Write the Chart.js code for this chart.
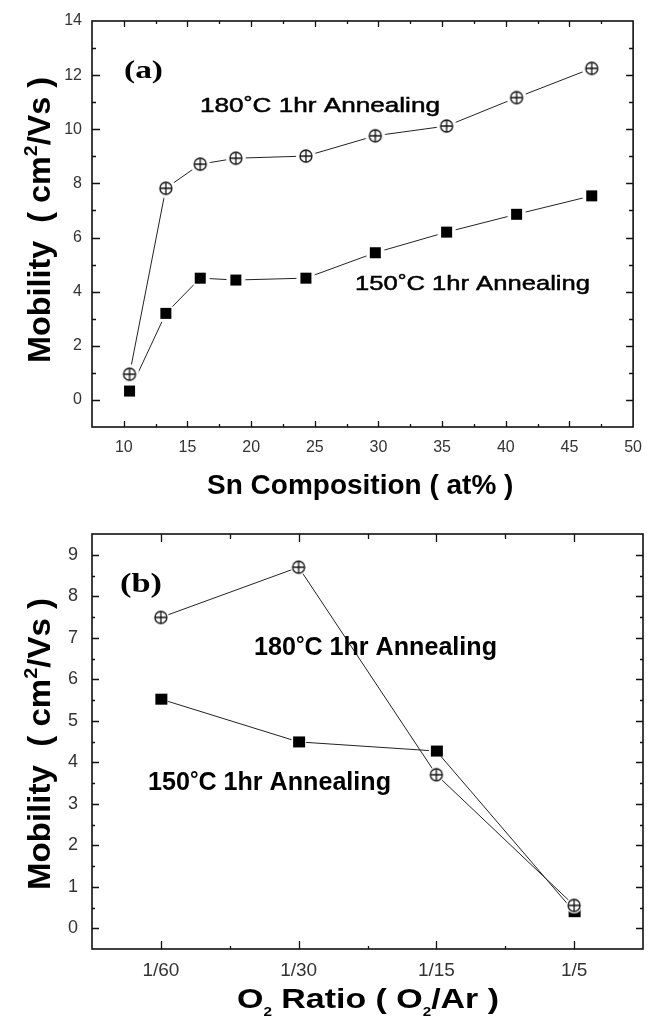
<!DOCTYPE html>
<html>
<head>
<meta charset="utf-8">
<script src="https://cdn.jsdelivr.net/npm/chart.js@4.4.1/dist/chart.umd.min.js"></script>
<style>
  html, body { margin: 0; padding: 0; background: #fff; }
  #wrap { position: relative; width: 653px; height: 1021px; overflow: hidden; }
  canvas { position: absolute; left: 0; }
  #ca { top: 0; }
  #cb { top: 500px; }
</style>
</head>
<body>
<div id="wrap">
  <canvas id="ca" width="653" height="500"></canvas>
  <canvas id="cb" width="653" height="521"></canvas>
</div>
<script>
// ---------- DATA ----------
// (a) Mobility vs Sn composition
const snComp   = [10.45, 13.3, 16.0, 18.8, 24.3, 29.75, 35.35, 40.85, 46.75];
const mob180a  = [0.95, 7.82, 8.71, 8.93, 9.01, 9.76, 10.12, 11.17, 12.25];
const mob150a  = [0.33, 3.2, 4.5, 4.43, 4.5, 5.44, 6.2, 6.86, 7.54];
const xTicksA  = [10, 15, 20, 25, 30, 35, 40, 45, 50];
const yTicksA  = [0, 2, 4, 6, 8, 10, 12, 14];

// (b) Mobility vs O2 ratio
const o2Labels = ['1/60', '1/30', '1/15', '1/5'];
const mob180b  = [7.49, 8.70, 3.70, 0.55];
const mob150b  = [5.52, 4.49, 4.27, 0.40];
const yTicksB  = [0, 1, 2, 3, 4, 5, 6, 7, 8, 9];

const seriesNames = ['180°C 1hr Annealing', '150°C 1hr Annealing'];

// ---------- MARKERS ----------
function circlePlus(r, halo) {
  const R = r + halo;
  const s = Math.ceil(2 * R + 2);
  const c = document.createElement('canvas');
  c.width = s; c.height = s;
  const g = c.getContext('2d');
  const m = s / 2;
  g.fillStyle = '#fff';
  g.beginPath(); g.arc(m, m, R, 0, Math.PI * 2); g.fill();
  g.strokeStyle = '#111'; g.lineWidth = 1.3;
  g.beginPath(); g.arc(m, m, r, 0, Math.PI * 2); g.stroke();
  g.beginPath();
  g.moveTo(m - r, m); g.lineTo(m + r, m);
  g.moveTo(m, m - r); g.lineTo(m, m + r);
  g.stroke();
  return c;
}
function squareMark(w, h, halo) {
  const s = Math.ceil(Math.max(w, h) + 2 * halo + 2);
  const c = document.createElement('canvas');
  c.width = s; c.height = s;
  const g = c.getContext('2d');
  const m = s / 2;
  g.fillStyle = '#fff';
  g.beginPath(); g.arc(m, m, Math.max(w, h) / 2 + halo, 0, Math.PI * 2); g.fill();
  g.fillStyle = '#000';
  g.fillRect(Math.round(m - w / 2), Math.round(m - h / 2), w, h);
  return c;
}

// ---------- TEXT HELPERS ----------
// segments: [{t, s (size factor), dy (em offset)}]
function drawRich(ctx, segs, x, y, o) {
  const fam = o.family || '"Liberation Sans", Arial, sans-serif';
  const wt = o.weight || 'normal';
  const size = o.size;
  ctx.save();
  let total = 0;
  const widths = segs.map(sg => {
    ctx.font = wt + ' ' + (size * (sg.s || 1)) + 'px ' + fam;
    const w = ctx.measureText(sg.t).width;
    total += w;
    return w;
  });
  const sx = o.width ? o.width / total : (o.sx || 1);
  ctx.translate(x, y);
  if (o.rotate) ctx.rotate(o.rotate);
  let startX = 0;
  if (o.align === 'center') startX = -total * sx / 2;
  ctx.fillStyle = o.color || '#000';
  ctx.strokeStyle = o.color || '#000';
  ctx.textBaseline = 'alphabetic';
  ctx.textAlign = 'left';
  let cx = startX;
  segs.forEach((sg, i) => {
    ctx.save();
    ctx.font = wt + ' ' + (size * (sg.s || 1)) + 'px ' + fam;
    ctx.translate(cx, 0);
    ctx.scale(sx, o.sy || 1);
    ctx.fillText(sg.t, 0, (sg.dy || 0) * size);
    if (o.stroke) { ctx.lineWidth = o.stroke; ctx.strokeText(sg.t, 0, (sg.dy || 0) * size); }
    ctx.restore();
    cx += widths[i] * sx;
  });
  ctx.restore();
}

const deg = (n) => [{ t: n }, { t: '°', s: 0.85, dy: -0.13 }, { t: 'C 1hr Annealing' }];

// ---------- FRAME + TICKS PLUGIN ----------
function framePlugin(cfg) {
  return {
    id: 'frame_' + cfg.id,
    afterDraw(chart) {
      const ctx = chart.ctx;
      const a = chart.chartArea;
      const xs = chart.scales.x, ys = chart.scales.y;
      ctx.save();
      ctx.strokeStyle = '#111';
      ctx.lineWidth = 1.6;
      ctx.strokeRect(a.left, a.top, a.right - a.left, a.bottom - a.top);
      ctx.lineWidth = 1.3;
      ctx.beginPath();
      xs.ticks.forEach(t => {
        const v = t.value;
        if (v <= xs.min + 1e-9 || v >= xs.max - 1e-9) return;
        const px = Math.round(xs.getPixelForValue(v)) + 0.5;
        const major = cfg.xMajor(v);
        const lb = major ? cfg.xMajLen : cfg.xMinLen;
        const lt = major ? cfg.topMajLen : cfg.topMinLen;
        ctx.moveTo(px, a.bottom); ctx.lineTo(px, a.bottom - lb);
        ctx.moveTo(px, a.top); ctx.lineTo(px, a.top + lt);
      });
      ys.ticks.forEach(t => {
        const v = t.value;
        if (v <= ys.min + 1e-9 || v >= ys.max - 1e-9) return;
        const py = Math.round(ys.getPixelForValue(v)) + 0.5;
        const major = cfg.yMajor(v);
        const ll = major ? cfg.yMajLen : cfg.yMinLen;
        const lr = major ? cfg.rMajLen : cfg.rMinLen;
        ctx.moveTo(a.left, py); ctx.lineTo(a.left + ll, py);
        ctx.moveTo(a.right, py); ctx.lineTo(a.right - lr, py);
      });
      ctx.stroke();
      ctx.restore();
      cfg.texts(ctx, chart);
    }
  };
}

function fixedBoxes(w, h) {
  return {
    x: s => { s.height = h; },
    y: s => { s.width = w; }
  };
}

// ---------- CHART (a) ----------
const lineColor = '#222';
const circA = circlePlus(6, 4);
const sqA = squareMark(11, 11, 4);

const fbA = fixedBoxes(92, 73);
new Chart(document.getElementById('ca'), {
  type: 'scatter',
  data: {
    datasets: [
      {
        label: seriesNames[0],
        data: snComp.map((x, i) => ({ x: x, y: mob180a[i] })),
        showLine: true, borderColor: lineColor, borderWidth: 1,
        pointStyle: circA, pointRadius: 6, pointHoverRadius: 6
      },
      {
        label: seriesNames[1],
        data: snComp.map((x, i) => ({ x: x, y: mob150a[i] })),
        showLine: true, borderColor: lineColor, borderWidth: 1,
        pointStyle: sqA, pointRadius: 6, pointHoverRadius: 6
      }
    ]
  },
  options: {
    responsive: false, animation: false, devicePixelRatio: 1,
    layout: { padding: { left: 0, top: 21, right: 10, bottom: 0 } },
    plugins: { legend: { display: false }, tooltip: { enabled: false } },
    events: [],
    scales: {
      x: {
        type: 'linear', min: 7.5, max: 50,
        afterFit: fbA.x,
        grid: { display: false, drawTicks: false },
        border: { display: false },
        ticks: {
          stepSize: 2.5, autoSkip: false, maxRotation: 0, padding: 11,
          color: '#333',
          font: { family: '"Liberation Sans", Arial, sans-serif', size: 16 },
          callback: v => (xTicksA.includes(v) ? String(v) : '')
        }
      },
      y: {
        type: 'linear', min: -1, max: 14,
        afterFit: fbA.y,
        grid: { display: false, drawTicks: false },
        border: { display: false },
        ticks: {
          stepSize: 1, autoSkip: false, padding: 10,
          color: '#333',
          font: { family: '"Liberation Sans", Arial, sans-serif', size: 16 },
          callback: v => (yTicksA.includes(v) ? String(v) : '')
        }
      }
    }
  },
  plugins: [framePlugin({
    id: 'a',
    xMajor: v => Math.abs(v / 5 - Math.round(v / 5)) < 1e-6,
    yMajor: v => Math.abs(v / 2 - Math.round(v / 2)) < 1e-6,
    xMajLen: 6, xMinLen: 3, topMajLen: 6, topMinLen: 3,
    yMajLen: 8, yMinLen: 4, rMajLen: 7, rMinLen: 4,
    texts(ctx, chart) {
      drawRich(ctx, [{ t: '(a)' }], 124, 78,
        { family: '"Liberation Serif", "Times New Roman", serif', weight: 'bold', size: 25, width: 39 });
      drawRich(ctx, deg('180'), 200, 112, { size: 21, width: 240, stroke: 0.5 });
      drawRich(ctx, deg('150'), 355, 290, { size: 21, width: 235, stroke: 0.5 });
      // y title
      drawRich(ctx, [{ t: 'Mobility  ( cm' }, { t: '2', s: 0.6, dy: -0.42 }, { t: '/Vs )' }], 50, 220,
        { weight: 'bold', size: 31, rotate: -Math.PI / 2, align: 'center', width: 286 });
      // x title
      drawRich(ctx, [{ t: 'Sn Composition ( at% )' }], 207, 494,
        { weight: 'bold', size: 28 });
    }
  })]
});

// ---------- CHART (b) ----------
const circB = circlePlus(6, 2);
const sqB = squareMark(12, 11, 1.5);
const fbB = fixedBoxes(92, 72);
new Chart(document.getElementById('cb'), {
  type: 'scatter',
  data: {
    datasets: [
      {
        label: seriesNames[0],
        data: mob180b.map((y, i) => ({ x: i + 1, y: y })),
        showLine: true, borderColor: lineColor, borderWidth: 1,
        pointStyle: circB, pointRadius: 6, pointHoverRadius: 6
      },
      {
        label: seriesNames[1],
        data: mob150b.map((y, i) => ({ x: i + 1, y: y })),
        showLine: true, borderColor: lineColor, borderWidth: 1,
        pointStyle: sqB, pointRadius: 6, pointHoverRadius: 6
      }
    ]
  },
  options: {
    responsive: false, animation: false, devicePixelRatio: 1,
    layout: { padding: { left: 0, top: 34, right: 5, bottom: 0 } },
    plugins: { legend: { display: false }, tooltip: { enabled: false } },
    events: [],
    scales: {
      x: {
        type: 'linear', min: 0.5, max: 4.5,
        afterFit: fbB.x,
        grid: { display: false, drawTicks: false },
        border: { display: false },
        ticks: {
          stepSize: 0.5, autoSkip: false, maxRotation: 0, padding: 10,
          color: '#333',
          font: { family: '"Liberation Sans", Arial, sans-serif', size: 19 },
          callback: v => (Number.isInteger(v) && v >= 1 && v <= o2Labels.length ? o2Labels[v - 1] : '')
        }
      },
      y: {
        type: 'linear', min: -0.5, max: 9.5,
        afterFit: fbB.y,
        grid: { display: false, drawTicks: false },
        border: { display: false },
        ticks: {
          stepSize: 0.5, autoSkip: false, padding: 14,
          color: '#333',
          font: { family: '"Liberation Sans", Arial, sans-serif', size: 18 },
          callback: v => (yTicksB.includes(v) ? String(v) : '')
        }
      }
    }
  },
  plugins: [framePlugin({
    id: 'b',
    xMajor: v => Number.isInteger(v),
    yMajor: v => Number.isInteger(v),
    xMajLen: 8, xMinLen: 3, topMajLen: 8, topMinLen: 5,
    yMajLen: 7, yMinLen: 3, rMajLen: 7, rMinLen: 3,
    texts(ctx, chart) {
      drawRich(ctx, [{ t: '(b)' }], 120, 92,
        { family: '"Liberation Serif", "Times New Roman", serif', weight: 'bold', size: 28, width: 42 });
      drawRich(ctx, deg('180'), 254, 155, { weight: 'bold', size: 25, width: 243 });
      drawRich(ctx, deg('150'), 148, 290, { weight: 'bold', size: 25, width: 243 });
      drawRich(ctx, [{ t: 'Mobility  ( cm' }, { t: '2', s: 0.6, dy: -0.42 }, { t: '/Vs )' }], 50, 244,
        { weight: 'bold', size: 31, rotate: -Math.PI / 2, align: 'center', width: 292 });
      drawRich(ctx, [{ t: 'O' }, { t: '2', s: 0.45, dy: 0.3 }, { t: ' Ratio ( O' }, { t: '2', s: 0.45, dy: 0.3 }, { t: '/Ar )' }], 237, 508,
        { weight: 'bold', size: 28, width: 262 });
    }
  })]
});
</script>
</body>
</html>
